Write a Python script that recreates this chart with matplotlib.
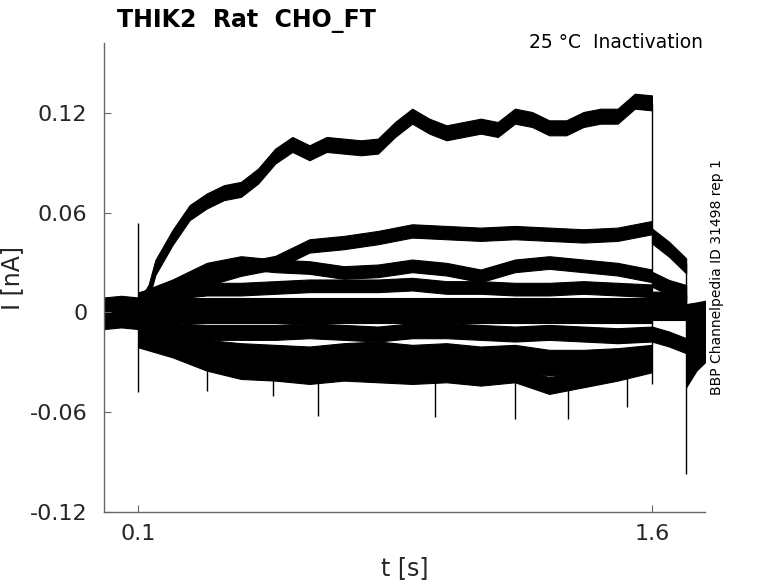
import numpy as np
import matplotlib
matplotlib.use("Agg")
import matplotlib.pyplot as plt

# --- values (t in s, I in nA) ---
pre_t = [0.0, 0.05, 0.1]
pre_hi = [0.009, 0.010, 0.009]
pre_lo = [-0.010, -0.009, -0.010]

top_t = [0.10, 0.13, 0.15, 0.20, 0.25, 0.30, 0.35, 0.40, 0.45, 0.50, 0.55,
         0.60, 0.65, 0.70, 0.75, 0.80, 0.85, 0.90, 0.95, 1.00, 1.05, 1.10,
         1.15, 1.20, 1.25, 1.30, 1.35, 1.40, 1.45, 1.50, 1.55, 1.60]
top_I = [0.002, 0.012, 0.027, 0.045, 0.060, 0.067, 0.072, 0.074, 0.082, 0.094,
         0.101, 0.096, 0.101, 0.100, 0.099, 0.100, 0.110, 0.118, 0.112, 0.108,
         0.110, 0.112, 0.110, 0.118, 0.116, 0.111, 0.111, 0.116, 0.118, 0.118,
         0.127, 0.126]

pulse_t = [0.1, 0.2, 0.3, 0.4, 0.5, 0.6, 0.7, 0.8, 0.9, 1.0, 1.1, 1.2, 1.3, 1.4, 1.5, 1.6]
trace_a = [0.008, 0.014, 0.020, 0.026, 0.030, 0.040, 0.042, 0.045, 0.049, 0.048,
           0.047, 0.048, 0.047, 0.046, 0.047, 0.051]
trace_b = [0.008, 0.016, 0.026, 0.030, 0.028, 0.027, 0.024, 0.025, 0.028, 0.026,
           0.022, 0.028, 0.030, 0.028, 0.026, 0.022]
trace_c = [0.004, 0.012, 0.014, 0.014, 0.015, 0.016, 0.016, 0.016, 0.017, 0.015,
           0.015, 0.014, 0.014, 0.015, 0.014, 0.013]
trace_g = [0.001, 0.001, 0.001, 0.001, 0.001, 0.001, 0.001, 0.001, 0.001, 0.001,
           0.001, 0.001, 0.001, 0.001, 0.001, 0.001]
trace_d = [-0.008, -0.011, -0.012, -0.012, -0.012, -0.011, -0.012, -0.013, -0.011,
           -0.011, -0.012, -0.013, -0.012, -0.013, -0.014, -0.013]
trace_e = [-0.012, -0.018, -0.021, -0.023, -0.024, -0.025, -0.023, -0.022, -0.024,
           -0.023, -0.025, -0.024, -0.027, -0.027, -0.026, -0.024]
trace_h = [-0.014, -0.020, -0.025, -0.029, -0.030, -0.031, -0.029, -0.030, -0.030,
           -0.029, -0.031, -0.030, -0.034, -0.033, -0.031, -0.028]
trace_f = [-0.016, -0.022, -0.030, -0.035, -0.036, -0.038, -0.036, -0.037, -0.038,
           -0.037, -0.039, -0.037, -0.044, -0.040, -0.036, -0.031]
noise = {"top": 0.0045, "a": 0.004, "b": 0.0038, "c": 0.0038, "g": 0.0075,
         "d": 0.0045, "e": 0.0045, "h": 0.004, "f": 0.005}

post_t = [1.6, 1.65, 1.7]
post_traces = [[0.046, 0.038, 0.028], [0.020, 0.015, 0.012], [0.008, 0.008, 0.006],
               [0.000, 0.000, 0.000], [-0.013, -0.016, -0.020]]
post_noise = 0.0045

tail_t = [1.7, 1.73, 1.755]
tail_hi = [0.005, 0.006, 0.007]
tail_lo = [-0.045, -0.035, -0.030]

# vertical transients / spikes: (t, low, high)
spikes = [(0.1, -0.048, 0.054), (1.6, -0.043, 0.126), (1.7, -0.097, 0.030),
          (0.30, -0.047, -0.028), (0.494, -0.050, -0.034), (0.625, -0.062, -0.036),
          (0.967, -0.063, -0.035), (1.20, -0.064, -0.036), (1.355, -0.064, -0.043),
          (1.527, -0.057, -0.034)]

fig = plt.figure(figsize=(7.78, 5.83), dpi=100)
ax = fig.add_axes([104/778, 1-512/583, 601/778, 469/583])

col = "black"
ax.fill_between(pre_t, pre_lo, pre_hi, color=col, lw=0.8)
ax.fill_between(top_t, np.array(top_I) - noise["top"], np.array(top_I) + noise["top"],
                color=col, lw=0.8)
for key, tr in [("a", trace_a), ("b", trace_b), ("c", trace_c), ("g", trace_g),
                ("d", trace_d), ("e", trace_e), ("h", trace_h), ("f", trace_f)]:
    tr = np.array(tr)
    ax.fill_between(pulse_t, tr - noise[key], tr + noise[key], color=col, lw=0.8)
for tr in post_traces:
    tr = np.array(tr)
    ax.fill_between(post_t, tr - post_noise, tr + post_noise, color=col, lw=0.8)
ax.fill_between(tail_t, tail_lo, tail_hi, color=col, lw=0.8)
for t, lo, hi in spikes:
    ax.vlines(t, lo, hi, color=col, lw=1.0)

ax.set_xlim(0, 1.755)
ax.set_ylim(-0.12, 0.162)
ax.set_xticks([0.1, 1.6])
ax.set_xticklabels(["0.1", "1.6"])
ax.set_yticks([-0.12, -0.06, 0, 0.06, 0.12])
ax.set_yticklabels(["-0.12", "-0.06", "0", "0.06", "0.12"])
for s in ["top", "right"]:
    ax.spines[s].set_visible(False)
for s in ["left", "bottom"]:
    ax.spines[s].set_color("#666666")
    ax.spines[s].set_linewidth(1.0)
ax.tick_params(direction="in", length=5, color="#666666", labelsize=16,
               labelcolor="#262626")
ax.tick_params(axis="y", pad=12)
ax.tick_params(axis="x", pad=9)
ax.set_xlabel("t [s]", fontsize=17, color="#262626", labelpad=8)
ax.set_ylabel("I [nA]", fontsize=17, color="#262626", labelpad=4)

fig.text(117/778, 1-27/583, "THIK2  Rat  CHO_FT", fontsize=17, fontweight="bold",
         ha="left", va="baseline")
fig.text(703/778, 1-48/583, "25 °C  Inactivation", fontsize=13.5, ha="right",
         va="baseline")
fig.text(717/778, 1-277/583, "BBP Channelpedia ID 31498 rep 1", fontsize=10,
         rotation=90, ha="center", va="center")

fig.savefig("out.png", dpi=100)
